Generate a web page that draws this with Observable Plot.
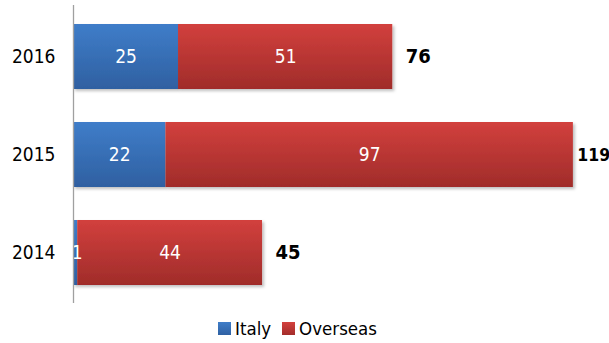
<!DOCTYPE html>
<html>
<head>
<meta charset="utf-8">
<script src="https://cdn.jsdelivr.net/npm/d3@7"></script>
<script src="https://cdn.jsdelivr.net/npm/@observablehq/plot@0.6"></script>
<style>
  html, body { margin: 0; padding: 0; background: #fff; width: 609px; height: 343px; overflow: hidden; }
  #chart svg { overflow: visible; }
  .legend { position: absolute; top: 318px; left: 218px; display: flex; align-items: center;
    font-family: "Liberation Sans Narrow", "DejaVu Sans Condensed", sans-serif; font-size: 18.5px; color: #000; }
  .legend .sw { width: 13px; height: 13px; display: inline-block; margin-right: 4px; }
  .legend .item { display: flex; align-items: center; margin-right: 11px; }
</style>
</head>
<body>
<div id="chart"></div>
<div class="legend">
  <span class="item"><span class="sw" style="background:linear-gradient(#3f7dc8,#2f61a3)"></span>Italy</span>
  <span class="item"><span class="sw" style="background:linear-gradient(#d3403d,#a32d2b)"></span>Overseas</span>
</div>
<script>
const years = ["2016", "2015", "2014"];
const italy = [25, 22, 1];
const overseas = [51, 97, 44];
const totals = [76, 119, 45];

const rows = [];
years.forEach((y, i) => {
  rows.push({year: y, series: "Italy", value: italy[i], x1: 0, x2: italy[i]});
  rows.push({year: y, series: "Overseas", value: overseas[i], x1: italy[i], x2: italy[i] + overseas[i]});
});
const totalRows = years.map((y, i) => ({year: y, total: totals[i]}));

const font = "'Liberation Sans Narrow', 'DejaVu Sans Condensed', sans-serif";
const xMax = 127.6;

const plot = Plot.plot({
  width: 609,
  height: 310,
  marginLeft: 73,
  marginRight: 0,
  marginTop: 5,
  marginBottom: 7,
  style: {fontFamily: font, fontSize: "19px", background: "white", overflow: "visible"},
  x: {domain: [0, xMax], axis: null},
  y: {domain: years, paddingInner: 0.34, paddingOuter: 0.19, label: null, tickSize: 0, tickPadding: 18},
  marks: [
    Plot.barX(rows.filter(d => d.series === "Italy"), {y: "year", x1: "x1", x2: "x2", fill: "url(#gBlue)"}),
    Plot.barX(rows.filter(d => d.series === "Overseas"), {y: "year", x1: "x1", x2: "x2", fill: "url(#gRed)"}),
    Plot.text(rows, {y: "year", x: d => d.value < 3 ? d.x1 + 0.9 : (d.x1 + d.x2) / 2, text: d => String(d.value), fill: "white", fontSize: 19, textAnchor: "middle"}),
    Plot.text(totalRows.filter(d => d.total < 100), {y: "year", x: "total", text: d => String(d.total), dx: 13, textAnchor: "start", fontWeight: "bold", fontSize: 20, fill: "black"}),
    Plot.text(totalRows.filter(d => d.total >= 100), {y: "year", x: "total", text: d => String(d.total), dx: 4, textAnchor: "start", fontWeight: "bold", fontSize: 17.5, fill: "black"}),
    Plot.ruleX([0], {stroke: "#a0a0a0", strokeWidth: 1.3})
  ]
});

const defs = document.createElementNS("http://www.w3.org/2000/svg", "defs");
defs.innerHTML = `
  <linearGradient id="gBlue" x1="0" y1="0" x2="0" y2="1">
    <stop offset="0" stop-color="#3f7dc9"/><stop offset="1" stop-color="#2f60a1"/>
  </linearGradient>
  <linearGradient id="gRed" x1="0" y1="0" x2="0" y2="1">
    <stop offset="0" stop-color="#d2403d"/><stop offset="1" stop-color="#a02c2a"/>
  </linearGradient>
  <filter id="shadow" x="-5%" y="-10%" width="115%" height="130%">
    <feDropShadow dx="2" dy="2" stdDeviation="1.5" flood-color="#000" flood-opacity="0.25"/>
  </filter>`;
plot.insertBefore(defs, plot.firstChild);
plot.querySelectorAll("g[aria-label='bar']").forEach(g => g.setAttribute("filter", "url(#shadow)"));
document.getElementById("chart").appendChild(plot);
</script>
</body>
</html>
